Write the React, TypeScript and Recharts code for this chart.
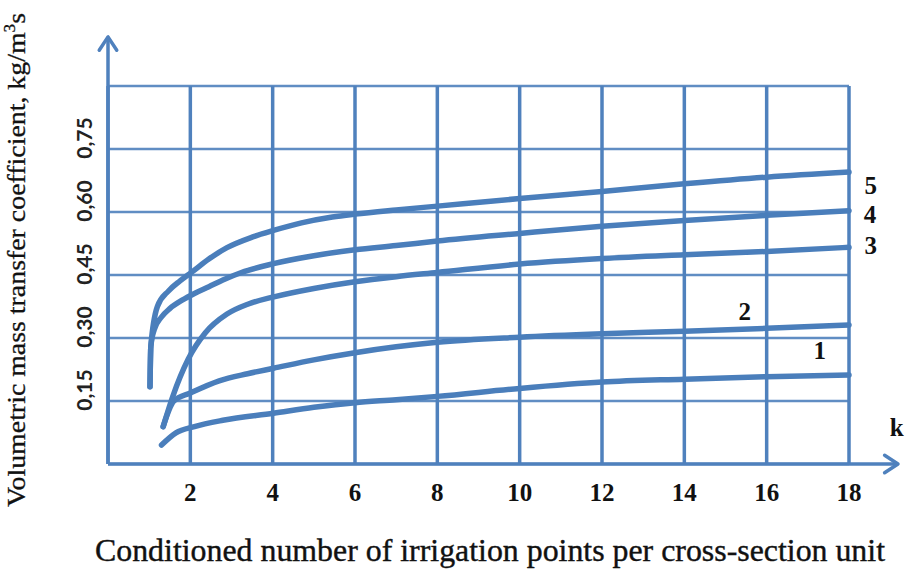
import React from "react";
import {
  LineChart,
  Line,
  XAxis,
  YAxis,
  CartesianGrid,
  ReferenceLine,
  ReferenceDot,
} from "recharts";

// values (k, coefficient kg/m3s)
const curve1 = [
  { k: 1.3, v: 0.045 }, { k: 1.65, v: 0.074 }, { k: 2.1, v: 0.089 }, { k: 2.79, v: 0.104 },
  { k: 4.02, v: 0.121 }, { k: 5, v: 0.135 }, { k: 6, v: 0.146 }, { k: 7, v: 0.153 },
  { k: 8, v: 0.161 }, { k: 10, v: 0.18 }, { k: 12, v: 0.195 }, { k: 14, v: 0.202 },
  { k: 16, v: 0.208 }, { k: 18, v: 0.212 },
];
const curve2 = [
  { k: 1.34, v: 0.089 }, { k: 1.6, v: 0.15 }, { k: 2, v: 0.169 }, { k: 2.7, v: 0.198 },
  { k: 3.39, v: 0.215 }, { k: 4.02, v: 0.228 }, { k: 5, v: 0.248 }, { k: 6, v: 0.265 },
  { k: 7, v: 0.279 }, { k: 8, v: 0.29 }, { k: 10, v: 0.302 }, { k: 12, v: 0.31 },
  { k: 14, v: 0.316 }, { k: 16, v: 0.323 }, { k: 18, v: 0.331 },
];
const curve3 = [
  { k: 1.34, v: 0.089 }, { k: 1.57, v: 0.16 }, { k: 1.95, v: 0.25 }, { k: 2.36, v: 0.312 },
  { k: 2.89, v: 0.357 }, { k: 3.41, v: 0.381 }, { k: 4.03, v: 0.398 }, { k: 5, v: 0.418 },
  { k: 6, v: 0.434 }, { k: 7, v: 0.446 }, { k: 8, v: 0.456 }, { k: 10, v: 0.476 },
  { k: 12, v: 0.489 }, { k: 14, v: 0.498 }, { k: 16, v: 0.506 }, { k: 18, v: 0.516 },
];
const curve4 = [
  { k: 1.02, v: 0.184 }, { k: 1.04, v: 0.279 }, { k: 1.12, v: 0.319 }, { k: 1.3, v: 0.35 },
  { k: 1.5, v: 0.37 }, { k: 1.8, v: 0.39 }, { k: 2.1, v: 0.406 }, { k: 2.45, v: 0.422 },
  { k: 2.79, v: 0.438 }, { k: 3.24, v: 0.456 }, { k: 4.02, v: 0.477 }, { k: 5, v: 0.496 },
  { k: 6, v: 0.51 }, { k: 7, v: 0.52 }, { k: 8, v: 0.531 }, { k: 10, v: 0.549 },
  { k: 12, v: 0.566 }, { k: 14, v: 0.58 }, { k: 16, v: 0.592 }, { k: 18, v: 0.603 },
];
const curve5 = [
  { k: 1.02, v: 0.184 }, { k: 1.04, v: 0.279 }, { k: 1.2, v: 0.375 }, { k: 1.47, v: 0.412 },
  { k: 1.75, v: 0.436 }, { k: 2.05, v: 0.458 }, { k: 2.45, v: 0.488 }, { k: 2.89, v: 0.515 },
  { k: 3.5, v: 0.54 }, { k: 4.02, v: 0.556 }, { k: 4.7, v: 0.574 }, { k: 5.45, v: 0.588 },
  { k: 6, v: 0.595 }, { k: 7, v: 0.605 }, { k: 8, v: 0.614 }, { k: 10, v: 0.632 },
  { k: 12, v: 0.649 }, { k: 14, v: 0.667 }, { k: 16, v: 0.683 }, { k: 18, v: 0.695 },
];
const curves = [curve1, curve2, curve3, curve4, curve5];

const xTicks = [0, 2, 4, 6, 8, 10, 12, 14, 16, 18];
const yTicks = [0, 0.15, 0.3, 0.45, 0.6, 0.75, 0.9];
const yLabels: Record<number, string> = {
  0.15: "0,15",
  0.3: "0,30",
  0.45: "0,45",
  0.6: "0,60",
  0.75: "0,75",
};

// curve numbers and the "k" next to the axis arrow
const tags = [
  { k: 17.29, v: 0.271, text: "1" },
  { k: 15.47, v: 0.362, text: "2" },
  { k: 18.53, v: 0.521, text: "3" },
  { k: 18.51, v: 0.593, text: "4" },
  { k: 18.53, v: 0.662, text: "5" },
  { k: 19.16, v: 0.086, text: "k" },
];

const BLUE = "#4f81bd";
const CURVE = "#4a7ebb";
const SERIF = "Liberation Serif";

const Arrow = (p: any) => {
  const { x1, y1, x2, y2 } = p;
  const ang = Math.atan2(y2 - y1, x2 - x1);
  const len = 16;
  const spread = 0.58;
  const ax = x2 - len * Math.cos(ang - spread);
  const ay = y2 - len * Math.sin(ang - spread);
  const bx = x2 - len * Math.cos(ang + spread);
  const by = y2 - len * Math.sin(ang + spread);
  return (
    <g>
      <line x1={x1} y1={y1} x2={x2} y2={y2} stroke={BLUE} strokeWidth={3.5} />
      <polyline
        points={`${ax},${ay} ${x2},${y2} ${bx},${by}`}
        fill="none"
        stroke={BLUE}
        strokeWidth={3.5}
        strokeLinecap="round"
        strokeLinejoin="round"
      />
    </g>
  );
};

const YTick = (p: any) => {
  const label = yLabels[p.payload.value];
  if (!label) return <g />;
  return (
    <text
      transform={`translate(${p.x},${p.y - 11}) rotate(-90)`}
      textAnchor="middle"
      dominantBaseline="central"
      style={{ fontFamily: "Lato, sans-serif", fontWeight: 700, fontSize: 21 }}
      fill="#222"
    >
      {label}
    </text>
  );
};

const XTick = (p: any) => {
  if (p.payload.value === 0) return <g />;
  return (
    <text
      x={p.x}
      y={p.y}
      textAnchor="middle"
      dominantBaseline="central"
      style={{ fontFamily: SERIF, fontWeight: 700, fontSize: 25 }}
      fill="#111"
    >
      {p.payload.value}
    </text>
  );
};

export default function App() {
  return (
    <div style={{ position: "absolute", left: 0, top: 0, background: "#fff" }}>
      <LineChart
        width={908}
        height={570}
        margin={{ top: 86, right: 59, bottom: 66, left: 48 }}
      >
        <CartesianGrid
          vertical={false}
          stroke={BLUE}
          strokeWidth={2.5}
          strokeOpacity={0.9}
        />
        <CartesianGrid horizontal={false} stroke={BLUE} strokeWidth={3.5} />
        <XAxis
          dataKey="k"
          type="number"
          domain={[0, 18]}
          ticks={xTicks}
          axisLine={false}
          tickLine={false}
          tickSize={0}
          tickMargin={28}
          height={40}
          tick={<XTick />}
          allowDuplicatedCategory={false}
        />
        <YAxis
          type="number"
          domain={[0, 0.9]}
          ticks={yTicks}
          axisLine={false}
          tickLine={false}
          tickSize={0}
          tickMargin={25}
          width={60}
          tick={<YTick />}
        />
        <ReferenceLine
          segment={[{ x: 0, y: 0 }, { x: 0, y: 1.017 }]}
          ifOverflow="visible"
          shape={Arrow}
        />
        <ReferenceLine
          segment={[{ x: 0, y: 0 }, { x: 19.19, y: 0 }]}
          ifOverflow="visible"
          shape={Arrow}
        />
        {curves.map((c, i) => (
          <Line
            key={i}
            data={c}
            dataKey="v"
            type="monotone"
            stroke={CURVE}
            strokeWidth={5.5}
            strokeLinecap="round"
            dot={false}
            activeDot={false}
            isAnimationActive={false}
          />
        ))}
        {tags.map((t) => (
          <ReferenceDot
            key={t.text}
            x={t.k}
            y={t.v}
            r={0}
            ifOverflow="visible"
            shape={(p: any) => (
              <text
                x={p.cx}
                y={p.cy}
                textAnchor="middle"
                dominantBaseline="central"
                style={{ fontFamily: SERIF, fontWeight: 700, fontSize: 25 }}
                fill="#111"
              >
                {t.text}
              </text>
            )}
          />
        ))}
        <text
          transform="translate(25,260) rotate(-90)"
          textAnchor="middle"
          style={{ fontFamily: SERIF, fontSize: 26 }}
          fill="#111"
          stroke="#111"
          strokeWidth={0.3}
          textLength={494}
          lengthAdjust="spacingAndGlyphs"
        >
          Volumetric mass transfer coefficient, kg/m
          <tspan style={{ fontSize: 16 }} dy={-10}>3</tspan>
          <tspan dy={10}>s</tspan>
        </text>
        <text
          x={490}
          y={561}
          textAnchor="middle"
          style={{ fontFamily: SERIF, fontSize: 32 }}
          fill="#111"
          stroke="#111"
          strokeWidth={0.4}
          textLength={790}
          lengthAdjust="spacingAndGlyphs"
        >
          Conditioned  number of irrigation points per cross-section unit
        </text>
      </LineChart>
    </div>
  );
}
